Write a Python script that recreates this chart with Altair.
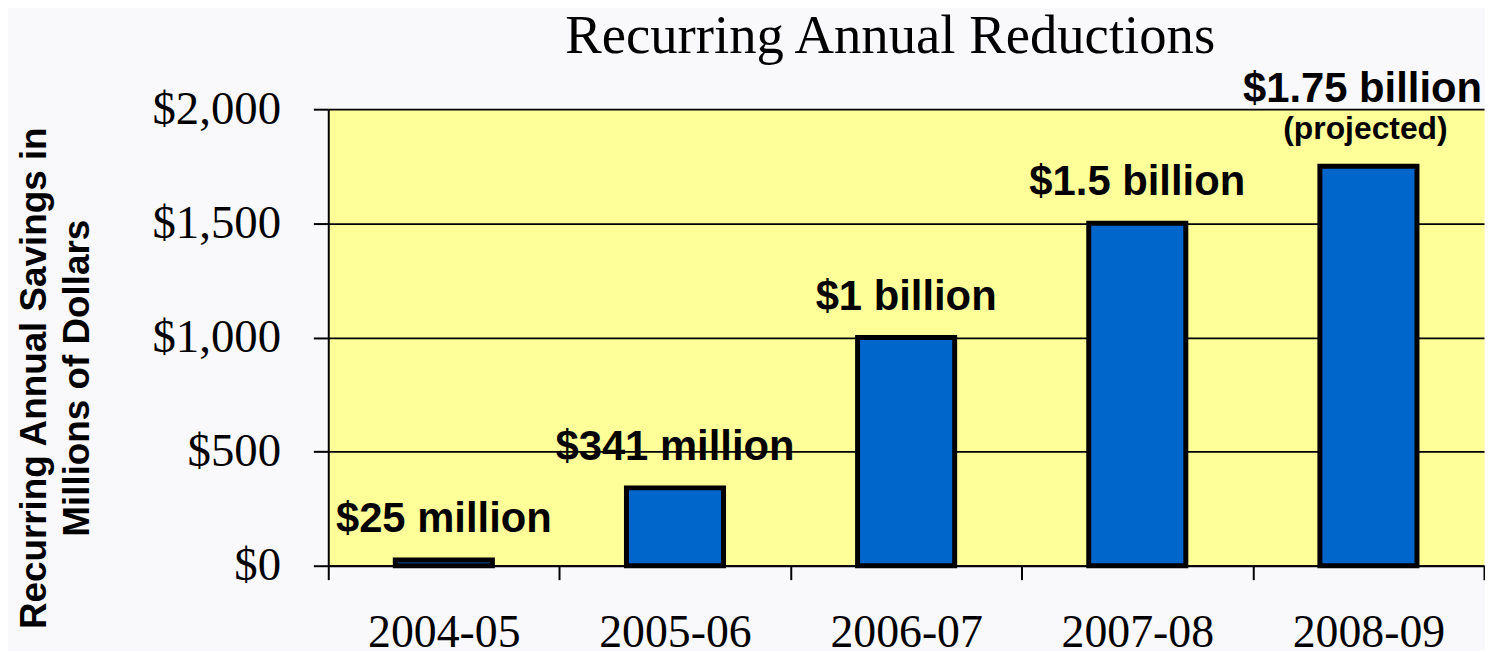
import altair as alt
import pandas as pd

periods = ["2004-05", "2005-06", "2006-07", "2007-08", "2008-09"]
savings = [25, 341, 1000, 1500, 1750]
labels = ["$25 million", "$341 million", "$1 billion", "$1.5 billion", "$1.75 billion"]
notes = ["", "", "", "", "(projected)"]
y_ticks = [0, 500, 1000, 1500, 2000]

df = pd.DataFrame({"period": periods, "savings": savings, "label": labels, "note": notes})

x_enc = alt.X(
    "period:N",
    sort=periods,
    title=None,
    scale=alt.Scale(paddingInner=0, paddingOuter=0),
    axis=alt.Axis(
        labelAngle=0,
        labelFont="Liberation Serif",
        labelFontSize=46,
        labelColor="black",
        labelPadding=31,
        tickBand="extent",
        tickSize=14,
        tickColor="black",
        tickWidth=2,
        domainColor="black",
        domainWidth=2,
        grid=False,
    ),
)

y_enc = alt.Y(
    "savings:Q",
    scale=alt.Scale(domain=[0, 2000], nice=False),
    title=["Recurring Annual Savings in", "Millions of Dollars"],
    axis=alt.Axis(
        values=y_ticks,
        format="$,.0f",
        labelFont="Liberation Serif",
        labelFontSize=47,
        labelColor="black",
        labelPadding=33,
        tickSize=15,
        tickColor="black",
        tickWidth=2,
        domainColor="black",
        domainWidth=2,
        grid=True,
        gridColor="black",
        gridWidth=1.8,
        titleFont="Liberation Sans",
        titleFontSize=37,
        titleFontWeight="bold",
        titleColor="black",
        titleAngle=270,
        titleAlign="center",
        titleBaseline="top",
        titleLineHeight=43,
        titleX=-313,
        titleY=270,
    ),
)

base = alt.Chart(df)

bars = base.mark_bar(
    color="#0066CC", stroke="black", strokeWidth=5, width=alt.RelativeBandSize(0.42)
).encode(x=x_enc, y=y_enc)

label_style = dict(
    font="Liberation Sans", fontWeight="bold", fontSize=42, color="black",
    align="center", baseline="alphabetic",
)

main_labels = base.transform_filter("datum.note == ''").mark_text(dy=-28, **label_style).encode(
    x=alt.X("period:N", sort=periods), y="savings:Q", text="label:N"
)
top_labels = base.transform_filter("datum.note != ''").mark_text(dy=-65, dx=-6, **label_style).encode(
    x=alt.X("period:N", sort=periods), y="savings:Q", text="label:N"
)
note_labels = base.transform_filter("datum.note != ''").mark_text(
    dy=-27, dx=-3, font="Liberation Sans", fontWeight="bold", fontSize=32, color="black",
    align="center", baseline="alphabetic",
).encode(x=alt.X("period:N", sort=periods), y="savings:Q", text="note:N")

chart = (
    alt.layer(bars, main_labels, top_labels, note_labels)
    .properties(
        width=1162,
        height=459,
        title=alt.TitleParams(
            "Recurring Annual Reductions",
            font="Liberation Serif",
            fontSize=55,
            fontWeight="normal",
            color="black",
            anchor="middle",
            frame="group",
            baseline="alphabetic",
            offset=16,
            dy=56,
            dx=-16,
        ),
        padding={"left": 322, "top": 100, "right": 1, "bottom": 84},
        autosize=alt.AutoSizeParams(type="none"),
        background="#F9F9FC",
    )
    .configure_view(fill="#FFFF99", stroke="transparent")
)

chart.save("out.html", embed_options={"renderer": "svg", "actions": False})
